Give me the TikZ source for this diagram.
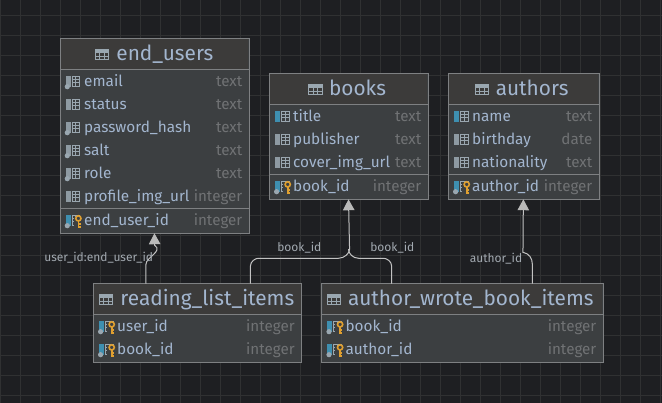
\documentclass[tikz,border=0pt]{standalone}
\usepackage{fontspec}
\setmainfont{Fira Sans}
\usetikzlibrary{arrows.meta}
\definecolor{bgc}{HTML}{1E1F22}
\definecolor{gridc}{HTML}{303132}
\definecolor{bodyc}{HTML}{3C3F41}
\definecolor{headc}{HTML}{3C3B3A}
\definecolor{edgec}{HTML}{7E8082}
\definecolor{namec}{HTML}{A3B6CF}
\definecolor{typec}{HTML}{707274}
\definecolor{labc}{HTML}{A2A9B0}
\definecolor{linec}{HTML}{C2C2C2}
\definecolor{tipc}{HTML}{B9B9B9}
\definecolor{iconc}{HTML}{9AA7B0}
\definecolor{barb}{HTML}{3E8FB0}
\definecolor{barg}{HTML}{8E9AA2}
\definecolor{keyc}{HTML}{E0A030}
\tikzset{
  x=0.75pt,y=-0.75pt,
  tblbox/.style={draw=edgec,fill=bodyc,line width=1.1pt,inner sep=0pt,outer sep=0pt,anchor=north west},
  rule/.style={draw=edgec,line width=0.9pt},
  titletext/.style={anchor=base west,inner sep=0pt,text=namec,font=\fontsize{15.6}{17}\selectfont},
  nametext/.style={anchor=base west,inner sep=0pt,text=namec,font=\fontsize{11.5}{13}\selectfont},
  typetext/.style={anchor=base east,inner sep=0pt,text=typec,font=\fontsize{11.4}{13}\selectfont},
  lab/.style={inner sep=0pt,text=labc,font=\fontsize{9}{11}\selectfont},
  conn/.style={draw=linec,line width=0.75pt,line cap=round},
  fk/.style={conn,-{Triangle[length=8.2pt,width=8.6pt,color=tipc]}}
}
% #1 name, #2 x1, #3 y1, #4 x2, #5 y2, #6 header line y, #7 title, #8 icon x, #9 title x
\newcommand\tablebox[9]{%
  \pgfmathsetmacro\bw{(#4-#2)*0.75}\pgfmathsetmacro\bh{(#5-#3)*0.75}%
  \node[tblbox,minimum width=\bw pt,minimum height=\bh pt] (#1) at (#2,#3) {};
  \fill[headc] (#2+1,#3+1) rectangle (#4-1,#6);
  \draw[rule] (#2,#6) -- (#4,#6);
  \pgfmathsetmacro\tby{#3+22.4}%
  \tableicon{#8}{#3+16}
  \node[titletext] (#1title) at (#9,\tby) {#7};
}
\newcommand\tableicon[2]{%
  \begin{scope}[shift={(#1,#2)}]
    \fill[iconc] (-7,-5.3) rectangle (7,-2.4);
    \draw[iconc,line width=0.6pt] (-6.6,-5) rectangle (6.6,5) (-6.6,-1.6) -- (6.6,-1.6) (-6.6,1.7) -- (6.6,1.7) (-2.2,-5) -- (-2.2,5) (2.2,-5) -- (2.2,5);
  \end{scope}}
% #1 left x, #2 centre y, #3 bar colour
\newcommand\colicon[3]{%
  \begin{scope}[shift={(#1,#2)}]
    \fill[#3] (0,-6) rectangle (5,5);
    \draw[iconc,line width=0.6pt] (6.2,-5.6) rectangle (14,4.4) (6.2,-2.3) -- (14,-2.3) (6.2,1) -- (14,1) (10,-5.6) -- (10,4.4);
  \end{scope}}
\newcommand\dotmark[2]{\fill[iconc] (#1+1.6,#2+5) circle[radius=2.6];}
\newcommand\keymark[2]{%
  \begin{scope}[shift={(#1,#2)}]
    \fill[bodyc] (8,-3.5) rectangle (16,7);
    \draw[keyc,line width=1.2pt] (12.7,-2.3) circle[radius=2.6];
    \draw[keyc,line width=1.3pt] (12.7,0.5) -- (12.7,7.3) (12.7,3.6) -- (15,3.6) (12.7,6.2) -- (15,6.2);
  \end{scope}}
% #1 name prefix, #2 left x, #3 right x, #4 centre y, #5 name, #6 type
\newcommand\rowtext[6]{%
  \pgfmathsetmacro\rby{#4+5}\pgfmathsetmacro\rtx{#2+23.6}\pgfmathsetmacro\rex{#3-6.7}%
  \node[nametext] (#1n) at (\rtx,\rby) {#5};
  \node[typetext] (#1t) at (\rex,\rby) {#6};
}
\begin{document}
\begin{tikzpicture}
\useasboundingbox (0,0) rectangle (662,403);
\fill[bgc] (0,0) rectangle (662,403);
\foreach \gx in {0,20,...,660} \draw[gridc,line width=0.75pt] (\gx,0) -- (\gx,403);
\foreach \gy in {16,36,...,396} \draw[gridc,line width=0.75pt] (0,\gy) -- (662,\gy);

% ---- end_users
\tablebox{endusers}{60.3}{38.3}{249.3}{233.3}{69.3}{end\_users}{102}{116.2}
\draw[rule] (60.3,208.3) -- (249.3,208.3);
\colicon{65.7}{81.7}{barg}\dotmark{65.7}{81.7}\rowtext{eua}{60.3}{249.3}{81.7}{email}{text}
\colicon{65.7}{104.7}{barg}\rowtext{eub}{60.3}{249.3}{104.7}{status}{text}
\colicon{65.7}{127.7}{barg}\dotmark{65.7}{127.7}\rowtext{euc}{60.3}{249.3}{127.7}{password\_hash}{text}
\colicon{65.7}{150.7}{barg}\dotmark{65.7}{150.7}\rowtext{eud}{60.3}{249.3}{150.7}{salt}{text}
\colicon{65.7}{173.7}{barg}\dotmark{65.7}{173.7}\rowtext{eue}{60.3}{249.3}{173.7}{role}{text}
\colicon{65.7}{196.7}{barg}\rowtext{euf}{60.3}{249.3}{196.7}{profile\_img\_url}{integer}
\colicon{65.7}{220.7}{barb}\dotmark{65.7}{220.7}\keymark{65.7}{220.7}\rowtext{eug}{60.3}{249.3}{220.7}{end\_user\_id}{integer}

% ---- books
\tablebox{books}{269.3}{73.3}{428.3}{199.3}{104.3}{books}{315.3}{328.8}
\draw[rule] (269.3,174.3) -- (428.3,174.3);
\colicon{275}{116.7}{barb}\rowtext{ba}{269.3}{428.3}{116.7}{title}{text}
\colicon{275}{139.7}{barg}\rowtext{bb}{269.3}{428.3}{139.7}{publisher}{text}
\colicon{275}{162.7}{barg}\rowtext{bc}{269.3}{428.3}{162.7}{cover\_img\_url}{text}
\colicon{275}{186.7}{barb}\dotmark{275}{186.7}\keymark{275}{186.7}\rowtext{bd}{269.3}{428.3}{186.7}{book\_id}{integer}

% ---- authors
\tablebox{authors}{448.3}{73.3}{599.3}{199.3}{104.3}{authors}{482}{495.5}
\draw[rule] (448.3,174.3) -- (599.3,174.3);
\colicon{454}{116.7}{barb}\rowtext{aa}{448.3}{599.3}{116.7}{name}{text}
\colicon{454}{139.7}{barg}\rowtext{ab}{448.3}{599.3}{139.7}{birthday}{date}
\colicon{454}{162.7}{barg}\rowtext{ac}{448.3}{599.3}{162.7}{nationality}{text}
\colicon{454}{186.7}{barb}\dotmark{454}{186.7}\keymark{454}{186.7}\rowtext{ad}{448.3}{599.3}{186.7}{author\_id}{integer}

% ---- reading_list_items
\tablebox{reading}{93.3}{283.3}{301.7}{362.3}{314.3}{reading\_list\_items}{106}{120.2}
\colicon{99}{326.7}{barb}\dotmark{99}{326.7}\keymark{99}{326.7}\rowtext{ra}{93.3}{301.7}{326.7}{user\_id}{integer}
\colicon{99}{349.7}{barb}\dotmark{99}{349.7}\keymark{99}{349.7}\rowtext{rb}{93.3}{301.7}{349.7}{book\_id}{integer}

% ---- author_wrote_book_items
\tablebox{wrote}{321.7}{283.3}{603.3}{362.3}{314.3}{author\_wrote\_book\_items}{334}{347.8}
\colicon{327.4}{326.7}{barb}\dotmark{327.4}{326.7}\keymark{327.4}{326.7}\rowtext{wa}{321.7}{603.3}{326.7}{book\_id}{integer}
\colicon{327.4}{349.7}{barb}\dotmark{327.4}{349.7}\keymark{327.4}{349.7}\rowtext{wb}{321.7}{603.3}{349.7}{author\_id}{integer}

% ---- connectors
\draw[fk] ([xshift=39.5pt]reading.north west) -- ++(0,-19) .. controls +(0,-7) and +(8.7,6) .. ++(8.7,-19) -- ([xshift=70.6pt]endusers.south west);
\draw[fk] ([xshift=117.8pt]reading.north west) -- ++(0,-17) .. controls +(0,-5) and +(-3,0) .. ++(8,-8) -- ++(80,0) .. controls +(6,0) and +(0,4) .. ++(11.2,-9) -- ([xshift=59.4pt]books.south west);
\draw[conn] ([xshift=52.5pt]wrote.north west) -- ++(0,-17) .. controls +(0,-5) and +(3,0) .. ++(-8,-8) -- ++(-25,0) .. controls +(-6,0) and +(0,4) .. ++(-10.2,-9);
\draw[fk] ([xshift=158pt]wrote.north west) -- ++(0,-19) .. controls +(0,-6) and +(6,1) .. ++(-9.4,-12) -- ([xshift=56.3pt]authors.south west);

% ---- labels
\node[lab,anchor=base west] (l1) at (44,262) {user\_id:end\_user\_id};
\node[lab,anchor=base] (l2) at (299.3,251.5) {book\_id};
\node[lab,anchor=base] (l3) at (392.3,251.5) {book\_id};
\node[lab,anchor=base] (l4) at (496,262.5) {author\_id};
\end{tikzpicture}
\end{document}
